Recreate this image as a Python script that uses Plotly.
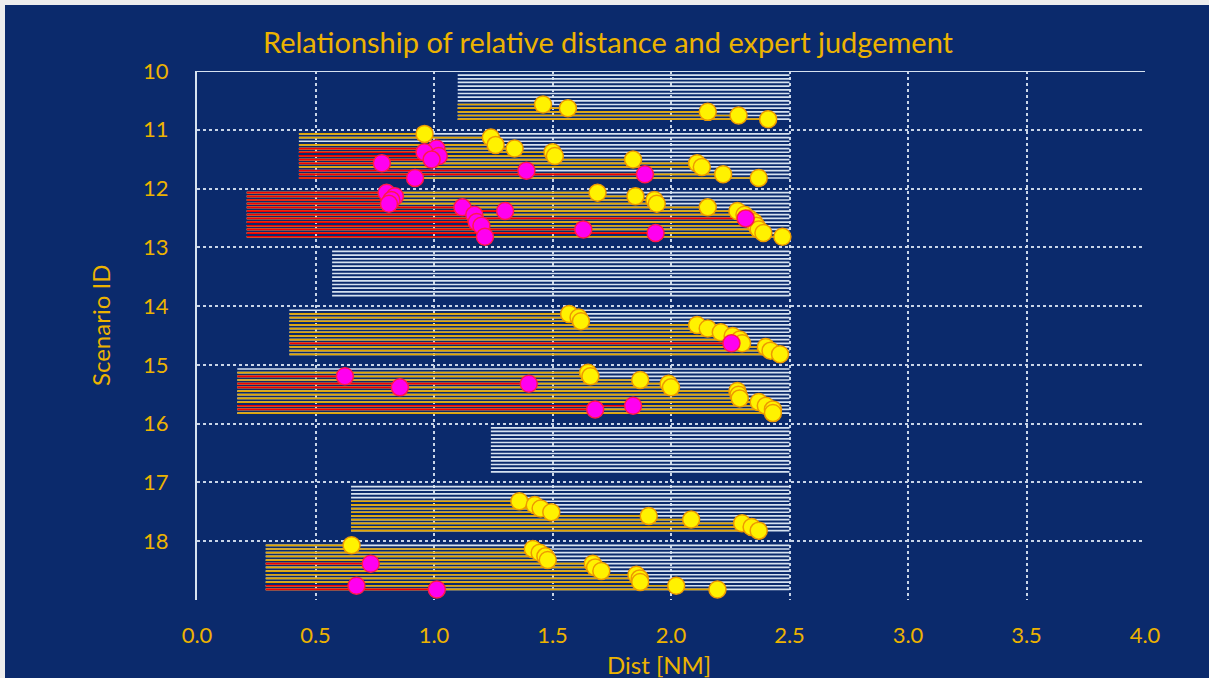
import plotly.graph_objects as go

# ---------------- data ----------------
scenario_ids = [10, 11, 12, 13, 14, 15, 16, 17, 18]
scenario_start = [1.10, 0.43, 0.21, 0.57, 0.39, 0.17, 1.24, 0.65, 0.29]
range_end = 2.5
n_experts = 13
N = None

# per scenario, one entry per expert row: distance of the "acceptable" (yellow) judgement
yellow_x = [
    [N, N, N, N, N, N, N, N, 1.46, 1.565, 2.155, 2.285, 2.41],
    [0.96, 1.24, N, 1.26, 1.34, 1.50, 1.51, 1.84, 2.11, 2.13, N, 2.22, 2.37],
    [1.69, 1.85, 1.93, 1.94, 2.155, 2.28, 2.31, 2.33, 2.35, 2.36, 2.37, 2.39, 2.47],
    [N] * 13,
    [N, 1.57, 1.61, 1.62, 2.11, 2.155, 2.21, 2.26, 2.29, 2.30, 2.40, 2.42, 2.46],
    [N, 1.65, 1.66, 1.87, 1.99, 2.00, 2.28, 2.285, 2.29, 2.37, 2.40, 2.43, 2.43],
    [N] * 13,
    [N, N, N, N, 1.36, 1.425, 1.45, 1.495, 1.906, 2.085, 2.30, 2.34, 2.37],
    [0.652, 1.417, 1.446, 1.47, 1.48, 1.67, 1.68, 1.706, 1.854, 1.868, 1.87, 2.022, 2.196],
]
# per scenario, one entry per expert row: distance of the "unsafe" (magenta) judgement
magenta_x = [
    [N] * 13,
    [N, N, N, N, 1.01, 0.96, 1.02, 0.99, 0.78, N, 1.39, 1.89, 0.92],
    [0.80, 0.835, 0.82, 0.81, 1.12, 1.30, 1.17, 2.315, 1.18, 1.20, 1.63, 1.935, 1.215],
    [N] * 13,
    [N, N, N, N, N, N, N, N, N, 2.255, N, N, N],
    [N, N, 0.624, N, 1.40, 0.856, N, N, N, N, 1.84, 1.68, N],
    [N] * 13,
    [N] * 13,
    [N, N, N, N, N, 0.733, N, N, N, N, N, 0.673, 1.012],
]

x_ticks = [0.0, 0.5, 1.0, 1.5, 2.0, 2.5, 3.0, 3.5, 4.0]
y_ticks = [10, 11, 12, 13, 14, 15, 16, 17, 18]

# ---------------- styling ----------------
BG = "#0B2A6C"
GOLD_TXT = "#EDB300"
WHITE_LINE = "#D6E2F0"
GOLD_LINE = "#E3A600"
RED_LINE = "#F20000"
GRID = "#C9D5E8"
FONT = "Lato"

OFF = 5                   # light page border at top/left, as in the reference
W, H = 1209 - OFF, 678 - OFF


def row_y(s, k):
    return s + 0.07 + 0.0625 * k


wx, wy, gx, gy, rx, ry = [], [], [], [], [], []
yx, yy, mx, my = [], [], [], []
for i, s in enumerate(scenario_ids):
    x0 = scenario_start[i]
    for k in range(n_experts):
        y = row_y(s, k)
        wx += [x0, range_end, None]
        wy += [y, y, None]
        if yellow_x[i][k] is not None:
            gx += [x0, yellow_x[i][k], None]
            gy += [y, y, None]
            yx.append(yellow_x[i][k])
            yy.append(y)
        if magenta_x[i][k] is not None:
            rx += [x0, magenta_x[i][k], None]
            ry += [y, y, None]
            mx.append(magenta_x[i][k])
            my.append(y)

LW = 1.7
fig = go.Figure()
fig.add_trace(go.Scatter(x=wx, y=wy, mode="lines", line=dict(color=WHITE_LINE, width=LW),
                         hoverinfo="skip", showlegend=False))
fig.add_trace(go.Scatter(x=gx, y=gy, mode="lines", line=dict(color=GOLD_LINE, width=LW),
                         hoverinfo="skip", showlegend=False))
fig.add_trace(go.Scatter(x=rx, y=ry, mode="lines", line=dict(color=RED_LINE, width=LW),
                         hoverinfo="skip", showlegend=False))
fig.add_trace(go.Scatter(x=yx, y=yy, mode="markers",
                         marker=dict(size=17, color="#FFF200", line=dict(color="#EE9A00", width=1.5)),
                         showlegend=False))
fig.add_trace(go.Scatter(x=mx, y=my, mode="markers",
                         marker=dict(size=17, color="#FF00F0", line=dict(color="#FF1A4A", width=1.5)),
                         showlegend=False))

plot_h = 600 - 71
plot_w = 1145 - 197
fig.update_layout(
    width=W, height=H,
    paper_bgcolor=BG, plot_bgcolor=BG,
    margin=dict(l=197 - OFF, r=1209 - 1145, t=71 - OFF, b=678 - 600),
    font=dict(family=FONT, color=GOLD_TXT),
    title=dict(text="Relationship of relative distance and expert judgement",
               font=dict(size=29, color=GOLD_TXT, family=FONT),
               x=(608 - OFF) / W, xref="container", xanchor="center",
               y=1 - (43 - OFF) / H, yref="container", yanchor="middle"),
    xaxis=dict(range=[0, 4.0], tickvals=x_ticks, ticktext=[f"{v:.1f}" for v in x_ticks],
               showgrid=True, gridcolor=GRID, griddash="dot", gridwidth=2,
               zeroline=False, showline=False,
               ticks="outside", ticklen=16, tickcolor="rgba(0,0,0,0)",
               tickfont=dict(size=22, color=GOLD_TXT, family=FONT)),
    yaxis=dict(range=[19, 10], tickvals=y_ticks,
               showgrid=True, gridcolor=GRID, griddash="dot", gridwidth=2,
               zeroline=False, showline=True, linecolor=WHITE_LINE, linewidth=2,
               ticks="outside", ticklen=22, tickcolor="rgba(0,0,0,0)",
               tickfont=dict(size=22, color=GOLD_TXT, family=FONT)),
    shapes=[dict(type="line", xref="x domain", yref="y", x0=0, x1=1, y0=10, y1=10,
                 line=dict(color=WHITE_LINE, width=2), layer="above")],
    annotations=[
        dict(text="Dist [NM]", xref="paper", yref="paper", x=(659 - 197) / plot_w, y=-(664 - 600) / plot_h,
             xanchor="center", yanchor="middle", showarrow=False,
             font=dict(size=24, color=GOLD_TXT, family=FONT)),
        dict(text="Scenario ID", xref="paper", yref="paper", x=-(197 - 100) / plot_w,
             y=1 - (326 - 71) / plot_h,
             xanchor="center", yanchor="middle", showarrow=False, textangle=-90,
             font=dict(size=24, color=GOLD_TXT, family=FONT)),
    ],
)

fig.write_html(
    "out.html",
    post_script="document.body.style.margin='%dpx 0 0 %dpx';"
                "document.body.style.background='#EDEDED';"
                "document.body.style.overflow='hidden';" % (OFF, OFF),
)
